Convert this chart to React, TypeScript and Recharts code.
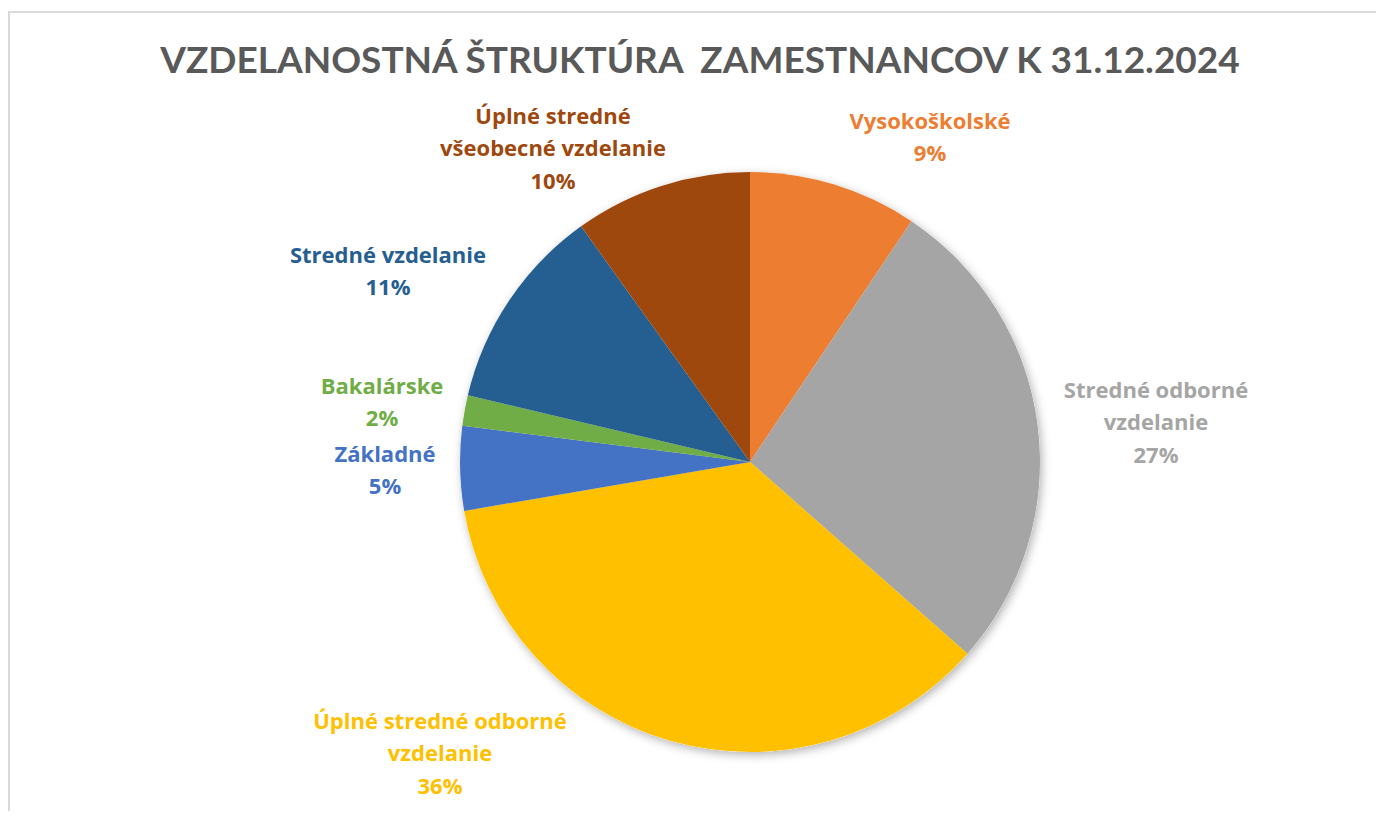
import { PieChart, Pie, Cell } from "recharts"

const categories = [
  "Vysokoškolské",
  "Stredné odborné vzdelanie",
  "Úplné stredné odborné vzdelanie",
  "Základné",
  "Bakalárske",
  "Stredné vzdelanie",
  "Úplné stredné všeobecné vzdelanie",
]
const shares = [9.4, 27.1, 35.8, 4.7, 1.7, 11.4, 9.9]
const colors = ["#ED7D31", "#A5A5A5", "#FFC000", "#4472C4", "#70AD47", "#255E91", "#9E480E"]
const labelLines = [
  ["Vysokoškolské"],
  ["Stredné odborné", "vzdelanie"],
  ["Úplné stredné odborné", "vzdelanie"],
  ["Základné"],
  ["Bakalárske"],
  ["Stredné vzdelanie"],
  ["Úplné stredné", "všeobecné vzdelanie"],
]
// label block centre, relative to the pie centre
const labelOffsets = [
  [180, -326],
  [406, -41],
  [-310, 290],
  [-365, 7],
  [-368, -61],
  [-362, -192],
  [-197, -315],
]

const data = categories.map((name, i) => ({ name, value: shares[i] }))

const TITLE_FONT = "Lato, 'Open Sans', sans-serif"
const LABEL_FONT = "'Open Sans', Lato, sans-serif"
const LINE = 32.5

const renderLabel = (props: any) => {
  const { cx, cy, index, percent } = props
  const lines = [...labelLines[index], `${Math.round(percent * 100)}%`]
  const [dx, dy] = labelOffsets[index]
  const top = cy + dy - ((lines.length - 1) * LINE) / 2
  return (
    <text
      x={cx + dx}
      y={top}
      textAnchor="middle"
      dominantBaseline="central"
      fill={colors[index]}
      fontFamily={LABEL_FONT}
      fontWeight={700}
      fontSize={22}
    >
      {lines.map((l, i) => (
        <tspan key={i} x={cx + dx} y={top + i * LINE}>
          {l}
        </tspan>
      ))}
    </text>
  )
}

export default function App() {
  return (
    <div style={{ position: "relative", width: 1368, height: 803, overflow: "hidden", background: "#fff" }}>
      <div
        style={{
          position: "absolute",
          left: 0,
          top: 3,
          width: 1500,
          height: 900,
          borderTop: "2px solid #d9d9d9",
          borderLeft: "2px solid #d9d9d9",
        }}
      />
      <div
        style={{
          position: "absolute",
          left: 0,
          top: 28,
          width: 1384,
          textAlign: "center",
          fontFamily: TITLE_FONT,
          fontWeight: 700,
          fontSize: 37,
          color: "#595959",
          whiteSpace: "pre",
        }}
      >
        {"VZDELANOSTNÁ ŠTRUKTÚRA  ZAMESTNANCOV K 31.12.2024"}
      </div>
      <div style={{ position: "absolute", left: 0, top: 0 }}>
        <PieChart width={1368} height={803} margin={{ top: 0, right: 0, bottom: 0, left: 0 }}>
          <defs>
            <filter id="pieShadow" x="-20%" y="-20%" width="140%" height="140%">
              <feDropShadow dx="2" dy="3" stdDeviation="5" floodColor="#000" floodOpacity="0.3" />
            </filter>
          </defs>
          <Pie
            data={data}
            dataKey="value"
            cx={742}
            cy={454}
            outerRadius={290}
            startAngle={90}
            endAngle={-270}
            stroke="none"
            fill="#fff"
            filter="url(#pieShadow)"
            isAnimationActive={false}
            label={false}
            labelLine={false}
          />
          <Pie
            data={data}
            dataKey="value"
            cx={742}
            cy={454}
            outerRadius={290}
            startAngle={90}
            endAngle={-270}
            stroke="none"
            isAnimationActive={false}
            label={renderLabel}
            labelLine={false}
          >
            {data.map((d, i) => (
              <Cell key={d.name} fill={colors[i]} />
            ))}
          </Pie>
        </PieChart>
      </div>
    </div>
  )
}
